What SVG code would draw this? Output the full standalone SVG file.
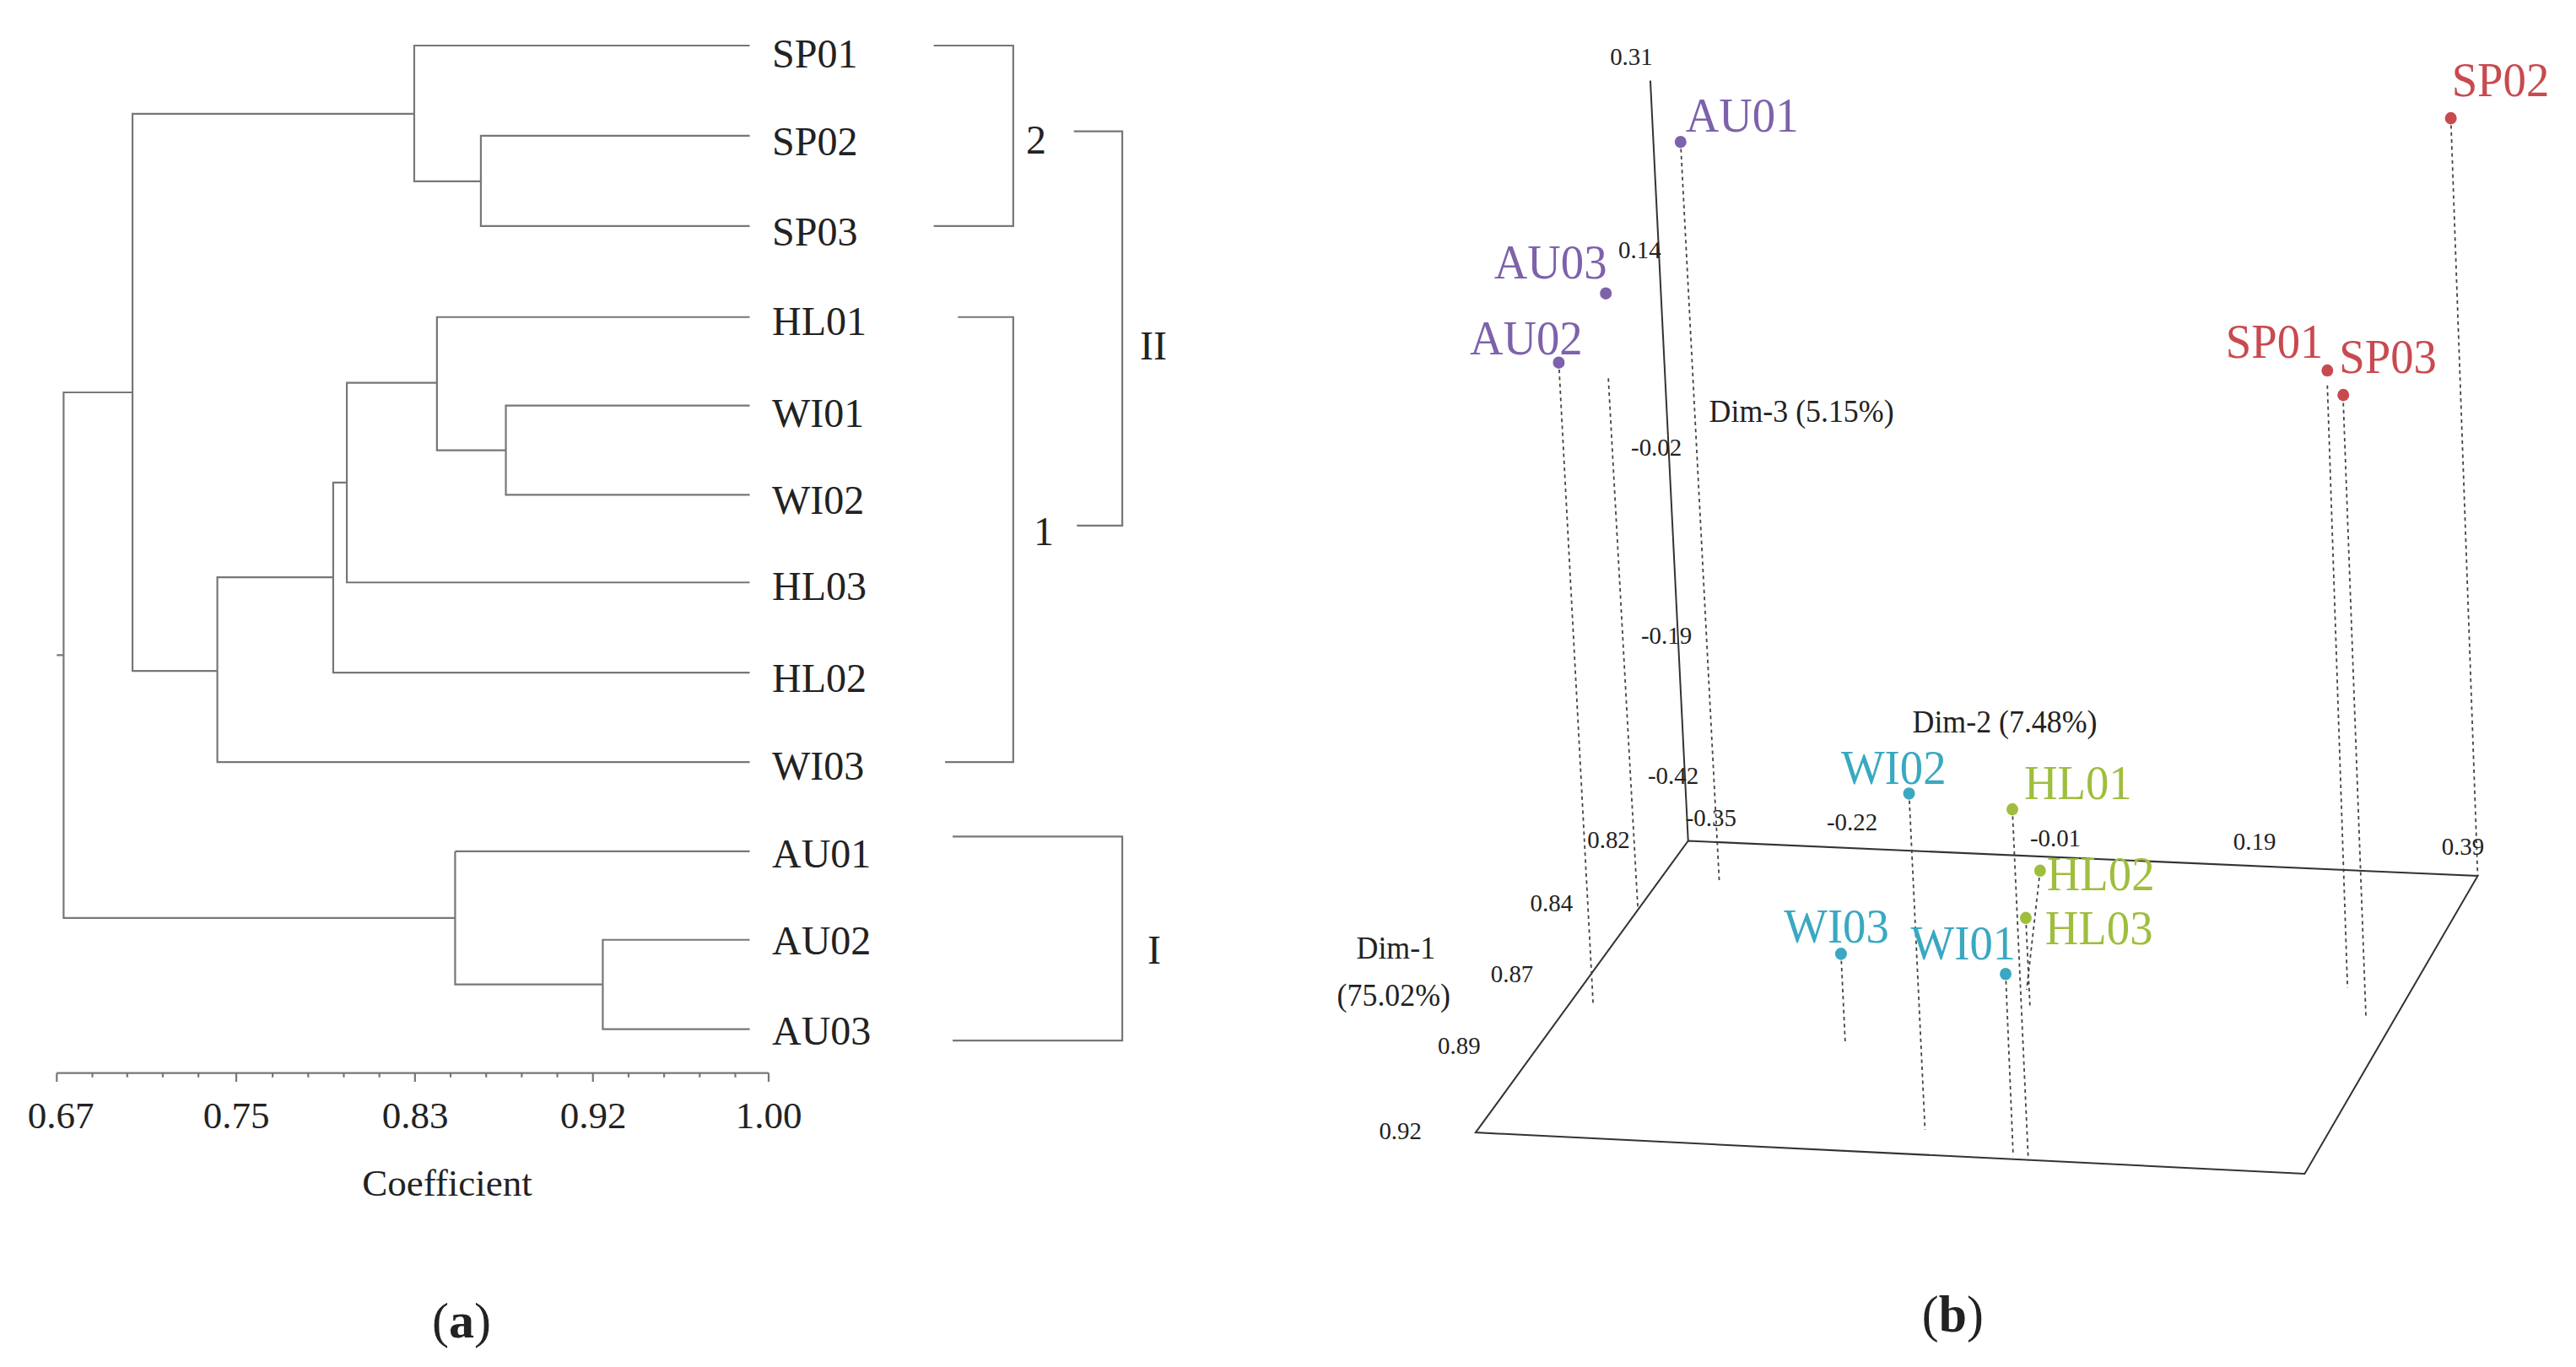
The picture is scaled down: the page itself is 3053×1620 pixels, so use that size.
<svg xmlns="http://www.w3.org/2000/svg" width="3053" height="1620" viewBox="0 0 3053 1620">
<style>
text{font-family:"Liberation Serif","DejaVu Serif",serif;fill:#222}
.ln{fill:none;stroke:#777;stroke-width:2.2;vector-effect:non-scaling-stroke}
.lab{font-size:48px}
.tk{font-size:45px}
.ax{fill:none;stroke:#333;stroke-width:2}
.dot{fill:none;stroke:#444;stroke-width:1.8;stroke-dasharray:4 4}
.num{font-size:29px}
.dim{font-size:36px}
.pl{font-size:55px}
.au{fill:#7d62ab}.sp{fill:#c84a4f}.wi{fill:#3aa8c1}.hl{fill:#9fbe3e}
</style>
<rect width="3053" height="1620" fill="#fff"/>
<g id="panel-a">
<g id="connectors" transform="scale(0.8975,1.038)">
<path class="ln" d="M990 52H547V207H635V155H990M635 207V258H990"/>
<path class="ln" d="M990 463H668V565H990M668 514H577V362H990M577 437H458V665H990M458 551H440V768H990M440 659H287V870H990M287 766H175V130H547M175 448H84V1048H601M601 972H990M601 972V1124H796V1073H990M796 1124V1175H990M75 748H84"/>
<path class="ln" d="M1233 52H1338V258H1233M1418 150H1482V600H1422M1265 362H1338V870H1248M1258 955H1482V1188H1258"/>
<path class="ln" d="M75 1225H1015"/>
<path class="ln" d="M75 1225v10M312 1225v10M548 1225v10M783 1225v10M1015 1225v10M122 1225v5M168 1225v5M215 1225v5M262 1225v5M360 1225v5M407 1225v5M454 1225v5M501 1225v5M595 1225v5M642 1225v5M689 1225v5M736 1225v5M830 1225v5M877 1225v5M924 1225v5M971 1225v5"/>
</g>
<g id="labels" class="lab">
<text x="915" y="80">SP01</text><text x="915" y="184">SP02</text><text x="915" y="291">SP03</text>
<text x="915" y="397">HL01</text><text x="915" y="506">WI01</text><text x="915" y="609">WI02</text>
<text x="915" y="711">HL03</text><text x="915" y="820">HL02</text><text x="915" y="924">WI03</text>
<text x="915" y="1028">AU01</text><text x="915" y="1131">AU02</text><text x="915" y="1238">AU03</text>
<text x="1216" y="182">2</text><text x="1225" y="646">1</text><text x="1351" y="426">II</text><text x="1360" y="1142">I</text>
</g>
<g class="tk" text-anchor="middle">
<text x="72" y="1337">0.67</text><text x="280" y="1337">0.75</text><text x="492" y="1337">0.83</text><text x="703" y="1337">0.92</text><text x="911" y="1337">1.00</text>
<text x="530" y="1417">Coefficient</text>
<text x="547" y="1585" font-size="60">(<tspan font-weight="bold">a</tspan>)</text>
</g>
</g>
<g id="panel-b" transform="translate(1500,0) scale(0.9955,1.038)">
<g id="axes">
<path class="ax" d="M458 92L503 960"/>
<path class="ax" d="M503 960L1443 1000L1237 1340L250 1293Z"/>
</g>
<g id="droplines">
<path class="dot" d="M494 162L540 1005M408 432L443 1035M349 414L390 1148M1411 135L1443 1000M1264 440L1288 1128M1283 460L1310 1163M766 906L785 1290M685 1089L690 1190M881 1112L890 1320M889 924L908 1325M922 994L906 1130M905 1048L910 1150"/>
</g>
<g id="axis-labels">
<text class="num" x="410" y="74">0.31</text><text class="num" x="420" y="295">0.14</text><text class="num" x="435" y="520">-0.02</text>
<text class="num" x="447" y="735">-0.19</text><text class="num" x="455" y="895">-0.42</text><text class="num" x="500" y="943">-0.35</text>
<text class="num" x="668" y="948">-0.22</text><text class="num" x="910" y="966">-0.01</text><text class="num" x="1152" y="970">0.19</text><text class="num" x="1400" y="976">0.39</text>
<text class="num" x="383" y="968">0.82</text><text class="num" x="315" y="1040">0.84</text><text class="num" x="268" y="1121">0.87</text><text class="num" x="205" y="1203">0.89</text><text class="num" x="135" y="1301">0.92</text>
<text class="dim" x="528" y="482">Dim-3 (5.15%)</text>
<text class="dim" x="770" y="836">Dim-2 (7.48%)</text>
<text class="dim" x="108" y="1094">Dim-1</text><text class="dim" x="85" y="1148">(75.02%)</text>
</g>
<g id="AU01"><circle class="au" cx="494" cy="162" r="7"/><text class="pl au" x="500" y="150">AU01</text></g>
<g id="AU03"><circle class="au" cx="405" cy="335" r="7"/><text class="pl au" x="272" y="318">AU03</text></g>
<g id="AU02"><circle class="au" cx="349" cy="414" r="7"/><text class="pl au" x="243" y="405">AU02</text></g>
<g id="SP02"><circle class="sp" cx="1411" cy="135" r="7"/><text class="pl sp" x="1412" y="110">SP02</text></g>
<g id="SP01"><circle class="sp" cx="1264" cy="423" r="7"/><text class="pl sp" x="1143" y="408">SP01</text></g>
<g id="SP03"><circle class="sp" cx="1283" cy="451" r="7"/><text class="pl sp" x="1278" y="426">SP03</text></g>
<g id="WI02"><circle class="wi" cx="766" cy="906" r="7"/><text class="pl wi" x="685" y="895">WI02</text></g>
<g id="WI03"><circle class="wi" cx="685" cy="1089" r="7"/><text class="pl wi" x="617" y="1076">WI03</text></g>
<g id="WI01"><circle class="wi" cx="881" cy="1112" r="7"/><text class="pl wi" x="768" y="1095">WI01</text></g>
<g id="HL01"><circle class="hl" cx="889" cy="924" r="7"/><text class="pl hl" x="903" y="912">HL01</text></g>
<g id="HL02"><circle class="hl" cx="922" cy="994" r="7"/><text class="pl hl" x="930" y="1016">HL02</text></g>
<g id="HL03"><circle class="hl" cx="905" cy="1048" r="7"/><text class="pl hl" x="928" y="1078">HL03</text></g>
<text x="818" y="1520" font-size="60" text-anchor="middle">(<tspan font-weight="bold">b</tspan>)</text>
</g>
</svg>
